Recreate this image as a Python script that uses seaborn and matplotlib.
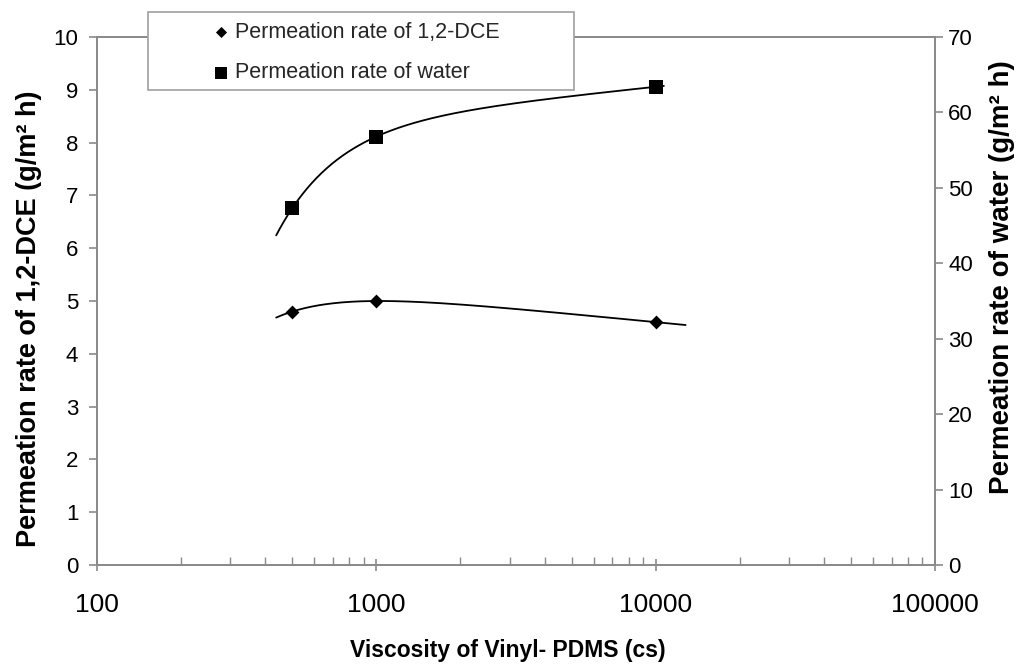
import numpy as np
import matplotlib
matplotlib.use("Agg")
import matplotlib.pyplot as plt
from matplotlib.patches import Rectangle
from matplotlib.ticker import LogLocator, NullFormatter
import seaborn as sns

# Measured permeation rates versus vinyl-PDMS viscosity
viscosity = [500, 1000, 10000]
dce_rate = [4.8, 5.0, 4.6]          # g/(m² h), left axis
water_rate = [47.3, 56.8, 63.4]     # g/(m² h), right axis

x_ticks = [100, 1000, 10000, 100000]
x_tick_labels = ["100", "1000", "10000", "100000"]
dce_ticks = list(range(0, 11))
water_ticks = list(range(0, 71, 10))

dce_label = "Permeation rate of 1,2-DCE"
water_label = "Permeation rate of water"

# Extent of the drawn trendlines (forecast backward/forward)
dce_trend_range = (438, 12800)
water_trend_range = (438, 10700)

sns.set_theme(style="white")
plt.rcParams["font.family"] = ["Liberation Sans", "DejaVu Sans"]
GRAY = "#8a8a8a"


def trendline(x, y, lo, hi):
    """Least-squares fit of y = a + b ln x + c / x**2, evaluated on [lo, hi]."""
    x = np.asarray(x, float)
    y = np.asarray(y, float)
    design = np.column_stack([np.ones_like(x), np.log(x), 1.0 / x**2])
    coef, *_ = np.linalg.lstsq(design, y, rcond=None)
    xs = np.geomspace(lo, hi, 300)
    ys = coef[0] + coef[1] * np.log(xs) + coef[2] / xs**2
    return xs, ys


W, H = 1023, 665
fig = plt.figure(figsize=(W / 100, H / 100), dpi=100)
fig.patch.set_facecolor("white")
ax = fig.add_axes([97 / W, (H - 565) / H, (935 - 97) / W, (565 - 37) / H])
ax.set_xscale("log")
ax2 = ax.twinx()

# 1,2-DCE on the left axis
xs, ys = trendline(viscosity, dce_rate, *dce_trend_range)
sns.lineplot(x=xs, y=ys, ax=ax, color="black", linewidth=1.3, legend=False, sort=False)
sns.scatterplot(x=viscosity, y=dce_rate, ax=ax, marker="D", s=50, color="black",
                linewidth=0, label=dce_label, zorder=3, legend=False)

# Water on the right axis
xs, ys = trendline(viscosity, water_rate, *water_trend_range)
sns.lineplot(x=xs, y=ys, ax=ax2, color="black", linewidth=1.3, legend=False, sort=False)
sns.scatterplot(x=viscosity, y=water_rate, ax=ax2, marker="s", s=100, color="black",
                linewidth=0, label=water_label, zorder=3, legend=False)

for a in (ax, ax2):
    leg = a.get_legend()
    if leg is not None:
        leg.remove()
    a.grid(False)
    for sp in a.spines.values():
        sp.set_visible(True)
        sp.set_color(GRAY)
        sp.set_linewidth(1.3)

ax.set_xlim(100, 100000)
ax.set_ylim(0, 10)
ax2.set_ylim(0, 70)

ax.set_xticks(x_ticks, x_tick_labels, fontsize=19)
ax.xaxis.set_minor_locator(LogLocator(base=10, subs=np.arange(2, 10)))
ax.xaxis.set_minor_formatter(NullFormatter())
ax.tick_params(axis="x", which="major", direction="inout", length=9, width=1.2,
               color=GRAY, pad=16, labelcolor="black", top=False, bottom=True)
ax.tick_params(axis="x", which="minor", direction="in", length=6, width=1.0,
               color=GRAY, top=False, bottom=True)

ax.set_yticks(dce_ticks)
ax.tick_params(axis="y", which="major", direction="out", length=5.5, width=1.2,
               color=GRAY, pad=8, labelsize=16, labelcolor="black", left=True)
ax2.set_yticks(water_ticks)
ax2.tick_params(axis="y", which="major", direction="out", length=5.5, width=1.2,
                color=GRAY, pad=4, labelsize=16, labelcolor="black", right=True)

ax.set_xlabel("Viscosity of Vinyl- PDMS (cs)", fontsize=16.5, fontweight="bold",
              color="black")
ax.xaxis.set_label_coords(0.49, -0.14)
ax.set_ylabel("Permeation rate of 1,2-DCE (g/m² h)", fontsize=19.5,
              fontweight="bold", color="black")
ax.yaxis.set_label_coords(-0.066, 0.466)
ax2.set_ylabel("Permeation rate of water (g/m² h)", fontsize=20,
               fontweight="bold", color="black", rotation=90)
ax2.yaxis.set_label_coords(1.0645, 0.545)

# Legend box that sits over the top of the frame
fig.add_artist(Rectangle((148 / W, 1 - 90 / H), (574 - 148) / W, (90 - 12) / H,
                         transform=fig.transFigure, facecolor="white",
                         edgecolor="#a0a0a0", linewidth=1.2, zorder=3))
h1, l1 = ax.get_legend_handles_labels()
h2, l2 = ax2.get_legend_handles_labels()
fig.legend(h1 + h2, l1 + l2, loc="upper left",
           bbox_to_anchor=(212 / W, 1 - 22 / H), bbox_transform=fig.transFigure,
           frameon=False, fontsize=15.5, handlelength=0.8, handletextpad=0.25,
           labelspacing=0.9, borderpad=0, borderaxespad=0, markerscale=0.8)

fig.savefig("out.png", dpi=100, facecolor="white")
